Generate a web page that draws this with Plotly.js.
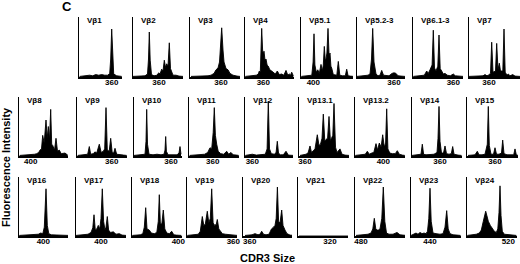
<!DOCTYPE html>
<html><head><meta charset="utf-8">
<script src="https://cdn.plot.ly/plotly-3.0.1.min.js"></script>
<style>html,body{margin:0;padding:0;background:#fff}#chart{width:520px;height:264px}</style>
</head><body><div id="chart"></div>
<script>
// ---- data ----
const panelNames = ["Vβ1","Vβ2","Vβ3","Vβ4","Vβ5.1","Vβ5.2-3","Vβ6.1-3","Vβ7",
  "Vβ8","Vβ9","Vβ10","Vβ11","Vβ12","Vβ13.1","Vβ13.2","Vβ14","Vβ15",
  "Vβ16","Vβ17","Vβ18","Vβ19","Vβ20","Vβ21","Vβ22","Vβ23","Vβ24"];
const tickValues = [360,360,360,360,400,360,360,360, 400,360,360,360,360,360,400,360,360, 400,400,400,360,360,320,480,440,520];

const x1 = [328,332,335,338,341,344,347,350,353,356,358,359,360,361,362,365,370];
const y1 = [1,1.5,2,3,2,4,3,4,3,3,6,30,80,28,5,2,1];
const x2 = [334,338,342,346,348.5,349.5,350.3,351.2,352.5,355,358,359.7,361,362.7,364,365.3,366.5,367.7,369,370.3,371.5,372.7,374,377,380,384];
const y2 = [1,1.5,2,2,5,30,75,28,4,2,3,7,5,13,10,28,16,22,18,57,14,7,3,3,1.5,1];
const x3 = [330,336,342,347,350,353,355,357,358.5,359.5,360.7,362,363,365,367,369,372,376,379];
const y3 = [1,1.5,1,2,3,6,12,15,25,50,82,45,25,14,12,6,3,1.5,1];
const x4 = [342,346,350,353,355,356,357,357.6,358.4,359.3,360,360.7,361.7,362.7,363.8,365,366.5,368.4,370,372,374,376,378.4,380.5,382.7,384.5,386,387.2,388.4,390];
const y4 = [1,1.5,2,3,5,10,8,40,81,45,38,43,28,30,20,18,12,10,7,5,10,4,5,3,11,3,5,3,8,2];
const x51 = [388,392,396,398.5,399.8,400.7,401.6,403,404.5,406,407.7,409,410,411,412,412.7,413.6,414.7,415.8,416.7,417.6,418.4,420,423.5,425,426.5,429,432,433.4,434.8,437,440];
const y51 = [1,1.5,2,3,25,72,20,8,12,6,21,10,20,51,28,30,40,81,35,40,18,15,4,3,26,3,2,2,13,2,1.5,1];
const x52 = [323,327,331,334,336,337.5,338.7,340,342,344,346,347.7,349.5,352,355,358,360,362,364,367,371];
const y52 = [1,1.5,2,3,5,30,81,25,5,2,3,11,3,2,2,6,7,6,2,1.5,1];
const x61 = [320,324,328,331,333.4,335,336.7,338.8,340,341.2,342.7,344.5,345.7,346.9,348.4,350,351.7,354,357,360,362,366,370];
const y61 = [1,1.5,2,3,10,6,12,20,78,15,10,18,70,14,10,5,6,3,2,5,2,1.5,1];
const x7 = [340,345,350,354,356,358,359.3,361.5,362.7,364,366.5,367.7,369,370.3,371.5,373.8,375,376.2,378,379.3,381,383.7,386,391];
const y7 = [1,1.5,1.5,2,4,2,3,6,58,8,10,56,12,23,10,10,80,8,3,5,2,4,1.5,1];
const x8 = [389,393,397,401,404,406,408,409.3,410.8,412,413.5,415.3,416.5,417.6,418.8,420,421,422,423.8,425.3,426.8,428.6,430.5,434.3,437];
const y8 = [1,1.5,2,2,3,4,6,10,12,35,22,61,30,50,28,79,20,18,10,30,8,10,4,5,1.5];
const x9 = [326,330,334,336,337.6,339,341.5,343.3,345,347.6,349.5,351.6,353,354.3,355.6,357.5,359,360.5,362,363.3,365,368,372,375];
const y9 = [1,1.5,2,3,16,3,4,7,5,20,6,8,12,82,10,8,30,6,5,13,3,2,1.5,1];
const x10 = [323,327,331,334,335,335.7,336.5,338,342,346,350,353,354,354.7,355.4,357,362,366,368,369,370];
const y10 = [1,1.5,2,3,25,79,20,3,2,3,2,3,10,33,8,2,2,2,5,16,3];
const x11 = [337,341,345,349,352,355,357.3,359,360.5,361.6,362.7,364,365.5,368,371,374,376,378.3,380.5,384,386];
const y11 = [1,1.5,2,2,3,6,14,12,40,82,35,20,8,4,3,8,3,6,2,1.5,1];
const x12 = [353,356,360,364,368,371,373,374.8,376,377.2,379,382,383.8,385,386.2,388,391,393.7,396,401];
const y12 = [1,1.5,3,1.5,2,2,3,12,93,12,4,3,6,25,5,2,2,8,1.5,1];
const x131 = [355,358,361,363,365,366.5,368,370,372.3,374,375.5,377,378.3,379.8,381,382.6,384,385.4,386.5,387.8,389,390.5,392,395,397,400,404];
const y131 = [1,2,3,5,17,6,8,12,36,18,20,30,71,25,28,30,67,26,30,35,89,15,6,12,3,1.5,1];
const x132 = [372,376,380,382,384,386,388.4,390.5,392.7,394.3,396,397.8,399.4,401,402.3,403.4,404.6,406.5,409,412,414,416,419,421.5];
const y132 = [1,1.5,2,3,8,3,5,6,21,10,22,15,36,15,22,80,12,5,4,4,9,3,1.5,1];
const x14 = [332,336,339,341,342.3,343.6,346,350,354,357,358,359,360,361.5,363.5,365,366.5,369,371.3,372.7,374,378,381.5];
const y14 = [1,1.5,2,3,20,3,2,2,3,6,30,84,25,5,5,17,4,3,4,16,3,1.5,1];
const x15 = [333,337,340,342.3,344,347,350,352.3,353.3,354.3,356,358.5,360,361.5,364,366.5,367.7,369,372,376,378.7,380,381.3,383];
const y15 = [1,1.5,2,8,2,2,3,20,84,18,3,3,14,3,3,5,27,4,2,2,2,12,2,1];
const x16 = [376,380,384,388,392,395,397.4,399.5,401,402.7,404,405.5,408,412,416,420,425];
const y16 = [1,1.5,1.5,2,2,3,5,4,15,80,18,4,2,2,1.5,1.5,1];
const x17 = [375,379,383,387,390,391.8,393,394.3,395.8,397.3,398.8,400,401.3,402.6,404,405,406.3,407.6,409.5,412.3,415,418.3,421,425];
const y17 = [1,1.5,2,3,6,14,36,10,12,18,12,30,80,25,10,15,33,10,6,7,3,4,1.5,1];
const x18 = [354,358,362,364.5,366,367.4,368.7,371,373,376,378.5,380,381,382,383.5,385,386.5,388.5,391,393.4,395.5,398,403];
const y18 = [1,1.5,2,4,15,48,12,10,5,4,6,25,70,22,20,44,12,5,4,8,2,1.5,1];
const x19 = [314,318,322,325,327,329,330.5,332,334,335.5,337,338.4,339.8,341.5,343,344,345.5,347,349,352,356,360,364];
const y19 = [1,1.5,2,3,8,33,18,20,42,22,30,80,22,18,20,28,12,8,4,3,2,1.5,1];
const x20 = [355,358,362,365,368,370,371.7,373.5,376,379,381.5,383.5,385,386.2,387.4,388.6,390,391.7,393,395,397,400,404];
const y20 = [1,1.5,2,4,2,3,8,3,2,3,12,15,18,30,83,25,22,44,18,10,4,1.5,1];
const x21 = [289,338];
const y21 = [0,0];
const x22 = [475,479,483,487,490,491.8,493.3,494.8,496,497.3,499,500.8,502.3,503.8,505.5,508,512,516,519,525];
const y22 = [1,1.5,2,3,5,12,30,12,10,10,12,30,83,25,5,3,3,6,2,1];
const x23 = [421,424,426,428,430,432,434,436,437.5,438.8,440,441.2,443,446,450,453,455,456.7,458.2,460,463,467,470.5];
const y23 = [1,3,5,3,6,4,5,4,8,30,81,25,5,4,3,4,15,43,12,4,2,1.5,1];
const x24 = [479,482,485,488,491,493,495,496.5,497.4,498.5,500,502,504,506,508,509.5,510.7,511.7,512.7,514,516,520,528];
const y24 = [1,1.5,2,3,5,10,25,38,42,35,25,18,12,8,6,12,40,85,35,8,3,2,1];

const seriesX = [x1,x2,x3,x4,x51,x52,x61,x7,x8,x9,x10,x11,x12,x131,x132,x14,x15,x16,x17,x18,x19,x20,x21,x22,x23,x24];
const seriesY = [y1,y2,y3,y4,y51,y52,y61,y7,y8,y9,y10,y11,y12,y131,y132,y14,y15,y16,y17,y18,y19,y20,y21,y22,y23,y24];

// ---- layout geometry (pixels) ----
const W = 520, H = 264;
const panelRow = [0,0,0,0,0,0,0,0, 1,1,1,1,1,1,1,1,1, 2,2,2,2,2,2,2,2,2];
const panelLeft  = [79,133,190,245,301,357,413,469, 19,77,134,189,245,299,355,412,467, 19,76,132,187,243,298,355,411,467];
const panelRight = [122,183,240,294,353,405,463,520, 68,127,182,239,293,349,405,462,518, 68,126,182,237,292,348,405,461,517];
const tickPx     = [111.7,159,221,263.3,313.3,394,453.3,489, 30.7,111.7,171,212.7,252.3,305,383.3,440,495, 43.3,101,178.3,233.3,250,330,361,430,508.3];
const rowTop    = [17, 97, 177];
const rowBottom = [77, 156, 236];
// panels whose tick label is placed as an axis-referenced annotation
const annotatedTick = [21];

const FONT = "Liberation Sans, Arial, Helvetica, sans-serif";
const TICKFONT = {family: FONT, size: 8, color: "#000", weight: "bold"};
const traces = [];
const layout = {
  width: W, height: H, margin: {l:0, r:0, t:0, b:0},
  paper_bgcolor: "#fff", plot_bgcolor: "rgba(0,0,0,0)",
  showlegend: false, font: {family: FONT, color: "#000"},
  annotations: []
};

for (let i = 0; i < panelNames.length; i++) {
  const n = i + 1;
  const sfx = n === 1 ? "" : String(n);
  const r = panelRow[i];
  const L = panelLeft[i], R = panelRight[i], T = rowTop[r], B = rowBottom[r];
  const t = tickValues[i];
  const viaAnno = annotatedTick.indexOf(i) >= 0;
  traces.push({
    type: "scatter", mode: "lines", x: seriesX[i], y: seriesY[i],
    xaxis: "x" + sfx, yaxis: "y" + sfx,
    fill: "tozeroy", fillcolor: "#000", line: {color: "#000", width: 0.9},
    hoverinfo: "skip"
  });
  layout["xaxis" + sfx] = {
    domain: [L / W, R / W], anchor: "y" + sfx,
    range: [t - (tickPx[i] - L), t + (R - tickPx[i])],
    showgrid: false, zeroline: false, showline: true, linecolor: "#000", linewidth: 1.6,
    tickvals: [t], ticktext: [String(t)], ticks: "", ticklabelstandoff: -3,
    ticklabeloverflow: "allow", showticklabels: !viaAnno,
    tickfont: TICKFONT
  };
  layout["yaxis" + sfx] = {
    domain: [1 - B / H, 1 - T / H], anchor: "x" + sfx,
    range: [0, 100], showgrid: false, zeroline: false, showline: true,
    linecolor: "#000", linewidth: 1.4, showticklabels: false, ticks: ""
  };
  if (viaAnno) {
    layout.annotations.push({
      xref: "x" + sfx, yref: "paper", x: t, y: 1 - (B + 5.5) / H,
      xanchor: "center", yanchor: "middle", showarrow: false, text: String(t), font: TICKFONT
    });
  }
  layout.annotations.push({
    xref: "paper", yref: "paper", x: (L + 5.5) / W, y: 1 - (T + 3.5) / H,
    xanchor: "left", yanchor: "middle", showarrow: false, text: panelNames[i],
    font: {family: FONT, size: 8, color: "#000", weight: "bold"}
  });
}

layout.annotations.push(
  {xref:"paper", yref:"paper", x: 60/W, y: 1 - 7/H, xanchor:"left", yanchor:"middle", showarrow:false,
   text:"C", font:{family:FONT, size:13, color:"#000", weight:"bold"}},
  {xref:"paper", yref:"paper", x: 6/W, y: 1 - 167/H, xanchor:"center", yanchor:"middle", showarrow:false,
   text:"Fluorescence Intensity", textangle:-90, font:{family:FONT, size:11, color:"#000", weight:"bold"}},
  {xref:"paper", yref:"paper", x: 267/W, y: 1 - 258/H, xanchor:"center", yanchor:"middle", showarrow:false,
   text:"CDR3 Size", font:{family:FONT, size:11, color:"#000", weight:"bold"}}
);

Plotly.newPlot("chart", traces, layout, {staticPlot: true, displayModeBar: false});
</script>
</body></html>
